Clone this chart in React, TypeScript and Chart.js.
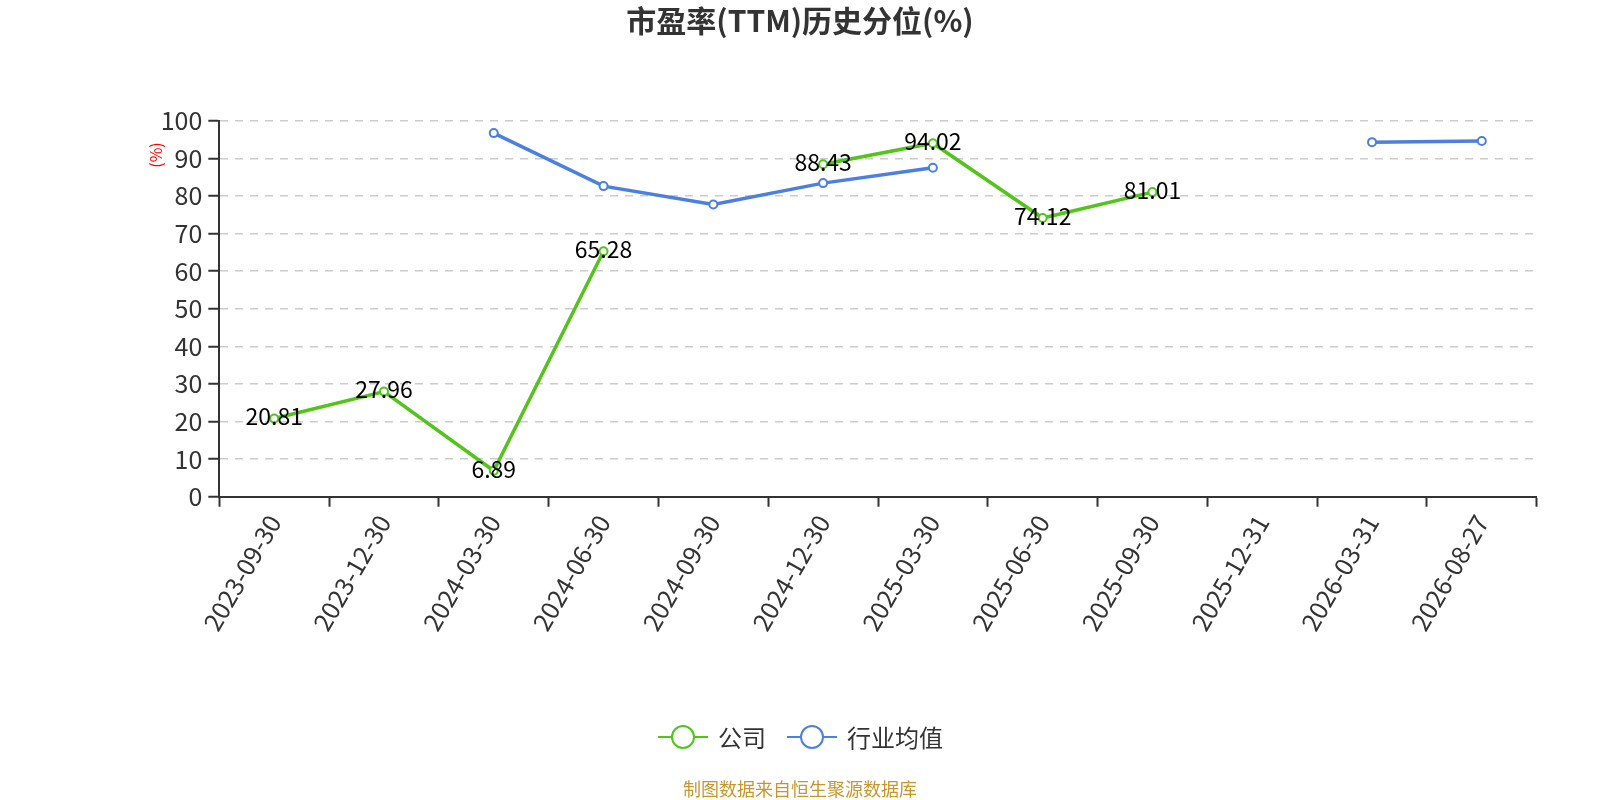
import { Chart, registerables } from 'chart.js';
import { useEffect, useRef } from 'react';

Chart.register(...registerables);

const dates = [
	'2023-09-30', '2023-12-30', '2024-03-30', '2024-06-30', '2024-09-30', '2024-12-30',
	'2025-03-30', '2025-06-30', '2025-09-30', '2025-12-31', '2026-03-31', '2026-08-27',
];
const companyValues = [20.81, 27.96, 6.89, 65.28, null, 88.43, 94.02, 74.12, 81.01, null, null, null];
const industryValues = [null, null, 96.7, 82.6, 77.7, 83.4, 87.5, null, null, null, 94.3, 94.6];
const yTicks = [0, 10, 20, 30, 40, 50, 60, 70, 80, 90, 100];

const GREEN = '#52c41a';
const BLUE = '#4b7fe0';
const FONT = '"Noto Sans CJK SC", "Noto Sans", sans-serif';
const CENTER_X = 800;

const legendItems = [
	{ label: '公司', color: GREEN },
	{ label: '行业均值', color: BLUE },
];

const decorPlugin = {
	id: 'decor',
	afterDatasetsDraw(chart: Chart) {
		const ctx = chart.ctx;
		// value labels on company points
		const meta = chart.getDatasetMeta(0);
		ctx.save();
		ctx.font = `23px ${FONT}`;
		ctx.fillStyle = '#000';
		ctx.textAlign = 'center';
		ctx.textBaseline = 'middle';
		meta.data.forEach((pt, i) => {
			const v = companyValues[i];
			if (v == null) return;
			ctx.fillText(v.toFixed(2), pt.x, pt.y - 2);
		});
		ctx.restore();
	},
	afterDraw(chart: Chart) {
		const ctx = chart.ctx;
		ctx.save();
		// title
		ctx.font = `bold 30px ${FONT}`;
		ctx.fillStyle = '#333';
		ctx.textAlign = 'center';
		ctx.textBaseline = 'middle';
		ctx.fillText('市盈率(TTM)历史分位(%)', CENTER_X, 21);

		// y unit
		ctx.save();
		ctx.translate(156, 155);
		ctx.rotate(-Math.PI / 2);
		ctx.font = `16px ${FONT}`;
		ctx.fillStyle = '#ff0000';
		ctx.fillText('(%)', 0, 0);
		ctx.restore();

		// legend
		ctx.font = `24px ${FONT}`;
		ctx.textAlign = 'left';
		let x = 658;
		const y = 737;
		legendItems.forEach((item) => {
			ctx.strokeStyle = item.color;
			ctx.lineWidth = 2;
			ctx.beginPath();
			ctx.moveTo(x, y);
			ctx.lineTo(x + 50, y);
			ctx.stroke();
			ctx.beginPath();
			ctx.arc(x + 25, y, 11, 0, Math.PI * 2);
			ctx.fillStyle = '#fff';
			ctx.fill();
			ctx.stroke();
			ctx.fillStyle = '#333';
			ctx.fillText(item.label, x + 60, y + 1);
			x += 60 + ctx.measureText(item.label).width + 21;
		});

		// source
		ctx.font = `18px ${FONT}`;
		ctx.fillStyle = '#c8962e';
		ctx.textAlign = 'center';
		ctx.fillText('制图数据来自恒生聚源数据库', CENTER_X, 789);
		ctx.restore();
	},
};

export default function App() {
	const canvasRef = useRef<HTMLCanvasElement | null>(null);
	const chartRef = useRef<Chart | null>(null);

	useEffect(() => {
		document.body.style.margin = '0';
		if (!canvasRef.current) return;
		if (chartRef.current) chartRef.current.destroy();

		const seriesStyle = (color: string) => ({
			borderColor: color,
			backgroundColor: color,
			borderWidth: 3.5,
			pointRadius: 4,
			pointHoverRadius: 4,
			pointBackgroundColor: '#fff',
			pointBorderColor: color,
			pointBorderWidth: 2,
			spanGaps: false,
			tension: 0,
		});

		chartRef.current = new Chart(canvasRef.current, {
			type: 'line',
			data: {
				labels: dates,
				datasets: [
					{ label: '公司', data: companyValues, ...seriesStyle(GREEN) },
					{ label: '行业均值', data: industryValues, ...seriesStyle(BLUE) },
				],
			},
			options: {
				responsive: false,
				animation: false,
				layout: { padding: { left: 0, top: 120.7, right: 63.3, bottom: 0 } },
				scales: {
					x: {
						type: 'category',
						offset: true,
						afterFit: (scale) => {
							scale.height = 303.3;
						},
						grid: {
							offset: true,
							drawOnChartArea: false,
							drawTicks: true,
							tickLength: 10,
							tickColor: '#333',
							tickWidth: 2,
						},
						border: { color: '#333', width: 2 },
						ticks: {
							color: '#333',
							font: { size: 25, family: FONT },
							minRotation: 60,
							maxRotation: 60,
							autoSkip: false,
							padding: 3,
						},
					},
					y: {
						min: 0,
						max: 100,
						afterFit: (scale) => {
							scale.width = 219.3;
						},
						afterBuildTicks: (scale) => {
							scale.ticks = yTicks.map((v) => ({ value: v }));
						},
						grid: {
							color: '#cccccc',
							lineWidth: 1.5,
							drawTicks: true,
							tickLength: 11,
							tickColor: '#333',
							tickWidth: 2,
						},
						border: { color: '#333', width: 2, dash: [8, 7] },
						ticks: {
							color: '#333',
							font: { size: 25, family: FONT },
							padding: 6,
						},
					},
				},
				plugins: {
					legend: { display: false },
					title: { display: false },
					tooltip: { enabled: false },
				},
			},
			plugins: [decorPlugin],
		});

		return () => {
			if (chartRef.current) {
				chartRef.current.destroy();
				chartRef.current = null;
			}
		};
	}, []);

	return (
		<div style={{ width: '1600px', height: '800px', background: '#fff' }}>
			<canvas ref={canvasRef} width={1600} height={800} style={{ width: '1600px', height: '800px' }}></canvas>
		</div>
	);
}
